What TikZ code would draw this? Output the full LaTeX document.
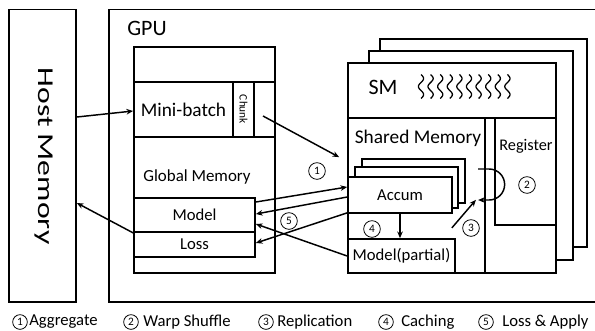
\documentclass[tikz,border=0pt]{standalone}
\usepackage{fontspec}
\setmainfont{Carlito}
\usepackage{tikz}
\usetikzlibrary{arrows.meta,calc}
\newcommand{\fs}[1]{\fontsize{#1}{#1}\selectfont}

\begin{document}
\begin{tikzpicture}[
  x=0.75pt, y=-0.75pt,
  >={Stealth[length=5pt,width=4.2pt]},
  box/.style={draw, line width=1.3pt, inner sep=0pt, fill=white},
  link/.style={->, line width=1.1pt},
  num/.style={circle, draw, line width=0.6pt, inner sep=0pt, minimum size=12.5pt, font=\fs{8.5}},
  key/.style={num, minimum size=11pt},
  keytxt/.style={anchor=west, inner sep=0pt, font=\fs{12.5}},
  lbl/.style={inner sep=0pt}
]
\useasboundingbox (0,0) rectangle (595,330);

% host side
\node[box, minimum width=50.25pt, minimum height=219.4pt] (host) at (42.5,155.75) {};
\node[lbl, rotate=-90, font=\fs{17}] (hosttxt) at (44,156) {\scalebox{1.4}[1]{Host Memory}};

% gpu frame, open to the right
\draw[line width=1.3pt] (595,9.5) -| (109,302) -- (595,302);
\node[lbl, font=\fs{16.5}] (gpu) at (147,28) {GPU};

% global memory
\node[box, minimum width=105.75pt, minimum height=169.5pt] (glob) at (204.5,160) {};
\node[box, minimum width=74.25pt, minimum height=41.25pt, font=\fs{14.5}] (mb) at (183.5,109.5) {Mini-batch};
\node[box, minimum width=15.75pt, minimum height=41.25pt] (chunk) at (243.5,109.5) {};
\node[lbl, rotate=-90, font=\fs{8.5}] (chunktxt) at (243.5,109.5) {Chunk};
\node[box, minimum width=15.75pt, minimum height=41.25pt] (spare) at (264.5,109.5) {};
\node[lbl, font=\fs{12.7}] (globtxt) at (197,177) {Global Memory};
\node[box, minimum width=90.75pt, minimum height=25.5pt, font=\fs{12.5}] (model) at (194.5,215) {Model};
\node[box, minimum width=90.75pt, minimum height=18.75pt, font=\fs{12.5}] (loss) at (194.5,244.5) {Loss};

% SM stack
\node[box, minimum width=155.25pt, minimum height=156pt] (smb3) at (483.5,143) {};
\node[box, minimum width=153pt, minimum height=156.75pt] (smb2) at (471,155.5) {};
\node[box, minimum width=156pt, minimum height=157.5pt] (sm) at (452,168) {};
\node[box, minimum width=156pt, minimum height=41.25pt] (smhead) at (452,90.5) {};
\node[lbl, font=\fs{16.5}] (smtxt) at (383,87) {SM};
\foreach \sx in {0,...,9}
  \draw[line width=0.95pt] plot[domain=0:24, samples=30, smooth, variable=\t]
    ({421+\sx*9.6+2.6*sin(\t*540/24)}, {74.5+\t});

\node[box, minimum width=102.75pt, minimum height=116.25pt] (shm) at (416.5,195.5) {};
\node[lbl, font=\fs{14.5}] (shmtxt) at (418,138) {Shared Memory};
\node[box, minimum width=45.75pt, minimum height=80.25pt] (reg) at (525.5,171.5) {};
\node[lbl, font=\fs{12.2}] (regtxt) at (526,146) {Register};

\node[box, minimum width=77.25pt, minimum height=33pt] (acc3) at (413.5,181) {};
\node[box, minimum width=77.25pt, minimum height=30.75pt] (acc2) at (406.5,187.5) {};
\node[box, minimum width=78pt, minimum height=27pt, font=\fs{12.5}] (acc) at (400,195) {Accum};
\node[box, minimum width=80.25pt, minimum height=25.5pt, font=\fs{12.5}] (mp) at (401.5,256) {Model(partial)};

% data movement
\draw[link] ($(host.east)+(0,-38.75)$) -- ($(mb.west)+(0,1.5)$);
\draw[link] (model.south west) -- ($(host.east)+(0,47.25)$);
\draw[link] ($(spare.center)+(-1.5,6.5)$) -- ($(shm.north west)+(-8,40)$);
\draw[link] ($(model.east)+(0,-13)$) -- ($(acc.west)+(0,-8)$);
\draw[link] ($(acc.west)+(0,2)$) -- ($(model.east)+(0,-1)$);
\draw[link] ($(acc.south west)+(0,-1)$) -- ($(loss.east)+(0,-1.5)$);
\draw[link] (mp.west) -- ($(model.east)+(0,9)$);
\draw[link] (acc.south) -- (acc.south |- mp.north);
\coordinate (repA) at ($(shm.south east)+(-34,-46)$);
\coordinate (repB) at ($(shm.south east)+(-10,-74)$);
\draw[link] (repA) -- (repB);
\coordinate (shufA) at ($(reg.west)+(-16,-2.5)$);
\draw[link] (shufA) -- ++(11,0) arc[start angle=-90, end angle=90, radius=15.5] -- ++(-11,0);

\node[num] (n1) at (317,171) {1};
\node[num] (n2) at (527,185) {2};
\node[num] (n3) at (471,228) {3};
\node[num] (n4) at (372,229) {4};
\node[num] (n5) at (289,221) {5};

% legend
\node[key] (k1) at (20,322) {1};
\node[keytxt] (k1txt) at (29,322) {Aggregate};
\node[key] (k2) at (131,322) {2};
\node[keytxt] (k2txt) at (143,322) {Warp Shuffle};
\node[key] (k3) at (266,322) {3};
\node[keytxt] (k3txt) at (277,322) {Replication};
\node[key] (k4) at (386,322) {4};
\node[keytxt] (k4txt) at (401,322) {Caching};
\node[key] (k5) at (486,322) {5};
\node[keytxt] (k5txt) at (502,322) {Loss \& Apply};
\end{tikzpicture}
\end{document}
